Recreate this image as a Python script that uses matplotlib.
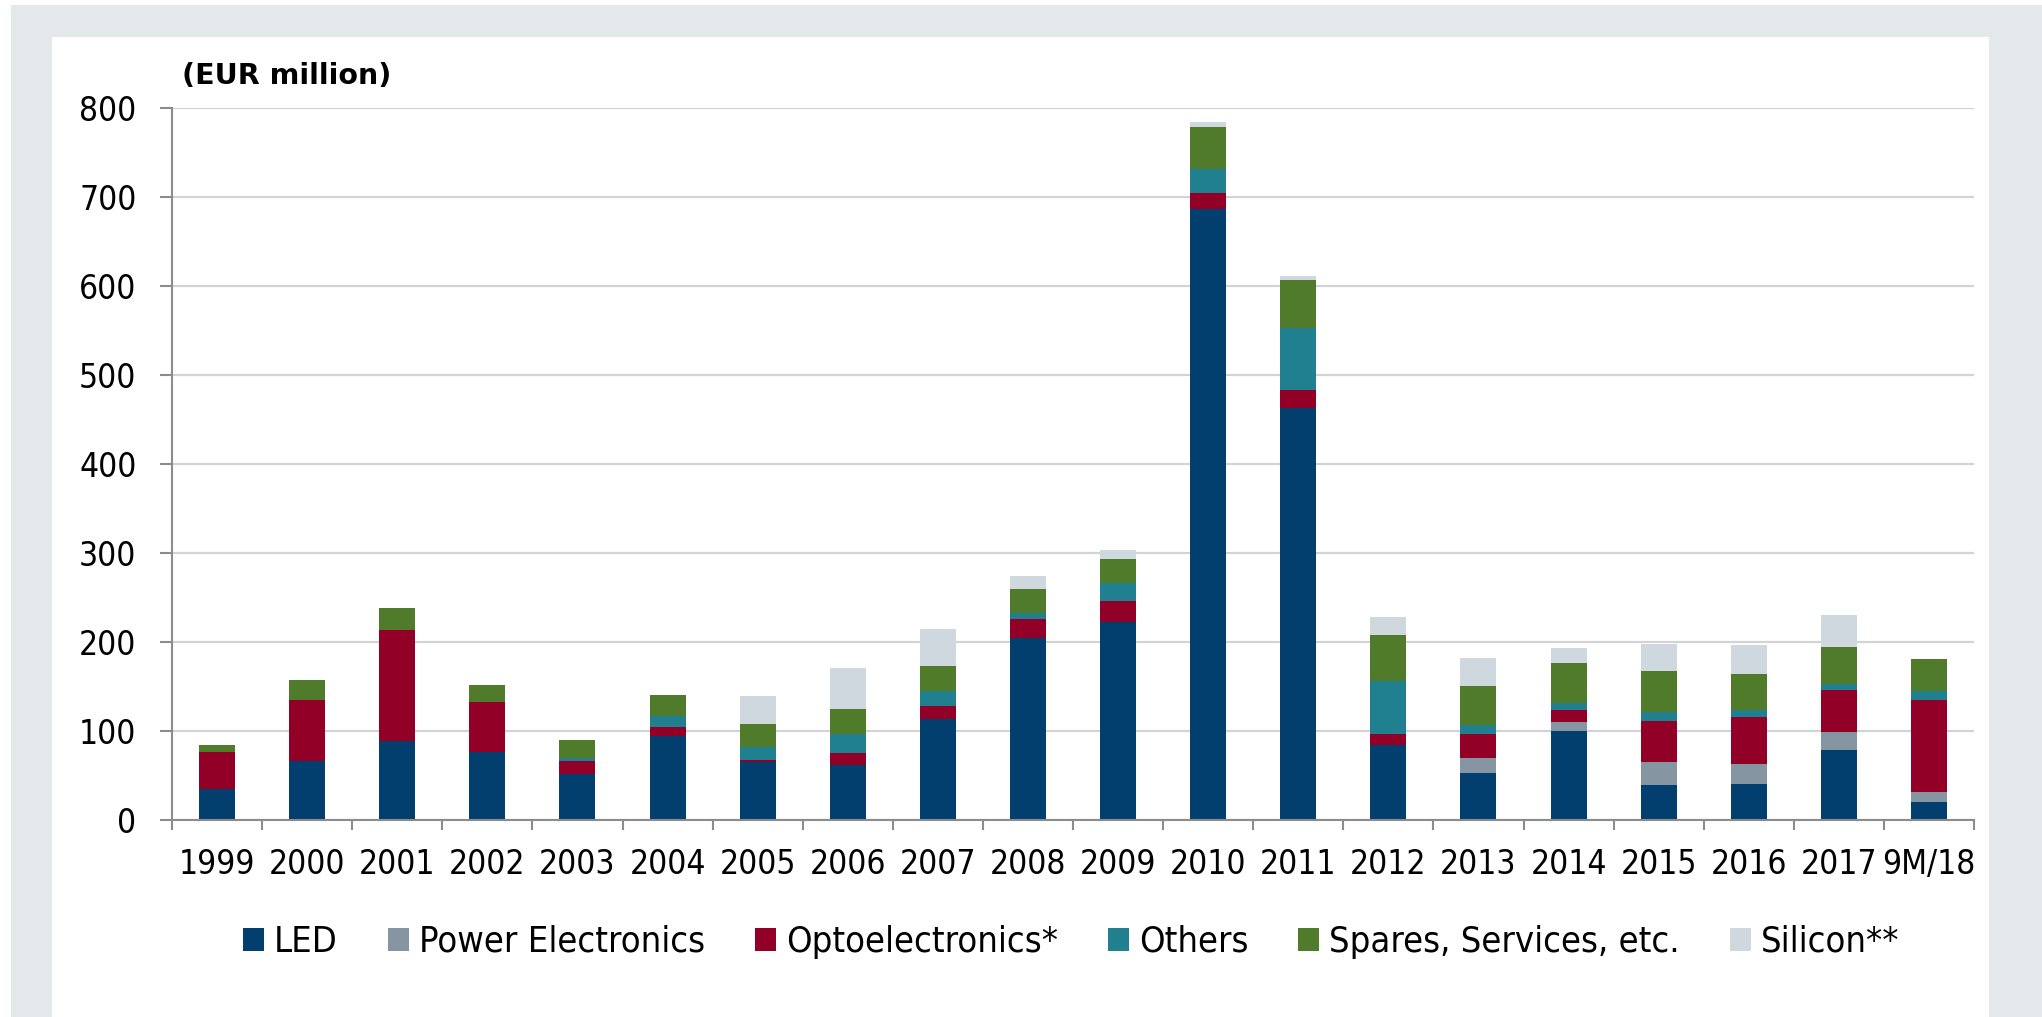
import matplotlib
matplotlib.use('Agg')
import matplotlib.pyplot as plt
from matplotlib.patches import Rectangle
from matplotlib import font_manager as fm
import numpy as np

categories = ['1999', '2000', '2001', '2002', '2003', '2004', '2005', '2006', '2007', '2008',
              '2009', '2010', '2011', '2012', '2013', '2014', '2015', '2016', '2017', '9M/18']
led = [35, 66, 89, 76, 52, 94, 65, 62, 113, 205, 223, 686, 463, 84, 53, 100, 39, 41, 79, 20]
power = [0, 0, 0, 0, 0, 0, 0, 0, 0, 0, 0, 0, 0, 0, 16.5, 10, 26, 21.5, 20, 11.6]
opto = [41, 69, 124, 57, 14, 10, 2.5, 13, 14.6, 21, 23, 18.5, 20, 12.4, 27.3, 14, 46.4, 52.8, 47.5, 102.7]
others = [0, 0, 0, 0, 3.7, 12.4, 14.6, 22, 17, 7, 20, 26.5, 70, 60.3, 10, 7, 9.7, 7.8, 6, 10.5]
spares = [8.6, 22.5, 25, 18.7, 20, 23.6, 25.8, 28, 28, 26.6, 27.4, 48, 54, 51, 44, 45, 46.5, 41, 42.4, 36]
silicon = [0, 0, 0, 0, 0, 0, 31, 46, 42, 14.3, 9.7, 5, 4.2, 20, 31.5, 17.2, 30, 32.6, 35, 0]

series_names = ['LED', 'Power Electronics', 'Optoelectronics*', 'Others',
                'Spares, Services, etc.', 'Silicon**']
series_values = [led, power, opto, others, spares, silicon]
series_colors = ['#033f6e', '#8595a1', '#920027', '#20808f', '#4f7b2b', '#cfd8df']
yticks = [0, 100, 200, 300, 400, 500, 600, 700, 800]

# fonts
cond = [f.fname for f in fm.fontManager.ttflist
        if f.fname.endswith('DejaVuSansCondensed.ttf')]
if cond:
    fp_tick = fm.FontProperties(fname=cond[0], size=24)
    fp_leg = fm.FontProperties(fname=cond[0], size=26)
else:
    fp_tick = fm.FontProperties(family='Liberation Sans', size=24)
    fp_leg = fm.FontProperties(family='Liberation Sans', size=25)

W, H = 2042, 1017
fig = plt.figure(figsize=(W / 100, H / 100), dpi=100)
fig.patch.set_facecolor('white')

# frame
fig.add_artist(Rectangle((11 / W, 0), 1 - 11 / W, 1 - 5 / H, transform=fig.transFigure,
                         facecolor='#e3e8eb', edgecolor='none', zorder=-10))
fig.add_artist(Rectangle((52 / W, 0), (1989 - 52) / W, 1 - 37 / H, transform=fig.transFigure,
                         facecolor='white', edgecolor='none', zorder=-9))

left, right, bottom_px, top_px = 172, 1974, 820, 108
ax = fig.add_axes([left / W, 1 - bottom_px / H, (right - left) / W, (bottom_px - top_px) / H])
ax.patch.set_visible(False)

x = np.arange(len(categories)) + 0.5
bottoms = np.zeros(len(categories))
for name, vals, col in zip(series_names, series_values, series_colors):
    v = np.array(vals, dtype=float)
    ax.bar(x, v, width=0.4, bottom=bottoms, color=col, label=name, linewidth=0, zorder=3)
    bottoms += v

ax.set_xlim(0, len(categories))
ax.set_ylim(0, 800)
ax.set_yticks(yticks)
ax.set_yticklabels([str(t) for t in yticks])
for lab in ax.get_yticklabels():
    lab.set_fontproperties(fp_tick)
ax.yaxis.grid(True, color='#d3d3d3', linewidth=1.6, zorder=0)
ax.set_axisbelow(True)

ax.set_xticks(np.arange(len(categories) + 1))
ax.set_xticklabels([])
ax.set_xticks(x, minor=True)
ax.set_xticklabels(categories, minor=True)
for lab in ax.get_xticklabels(minor=True):
    lab.set_fontproperties(fp_tick)

ax.tick_params(axis='y', which='major', direction='out', length=8.6, width=1.5,
               color='#8c8c8c', pad=17, labelcolor='black')
ax.tick_params(axis='x', which='major', direction='out', length=7.2, width=1.5,
               color='#8c8c8c')
ax.tick_params(axis='x', which='minor', length=0, pad=20, labelcolor='black')

for s in ['top', 'right']:
    ax.spines[s].set_visible(False)
for s in ['left', 'bottom']:
    ax.spines[s].set_color('#8c8c8c')
    ax.spines[s].set_linewidth(1.5)
    ax.spines[s].set_zorder(4)

fig.text(182 / W, 1 - 84 / H, '(EUR million)', fontsize=20.5, fontweight='bold',
         family='DejaVu Sans', ha='left', va='baseline')

fs = fp_leg.get_size_in_points()
em = fs * 100 / 72
leg = fig.legend(loc='center', bbox_to_anchor=(1071 / W, 1 - 942 / H), ncol=6,
                 frameon=False, prop=fp_leg, handlelength=21 / em, handleheight=21 / em,
                 handletextpad=10 / em, columnspacing=50 / em, borderpad=0)

fig.savefig('out.png', dpi=100, facecolor=fig.get_facecolor())
